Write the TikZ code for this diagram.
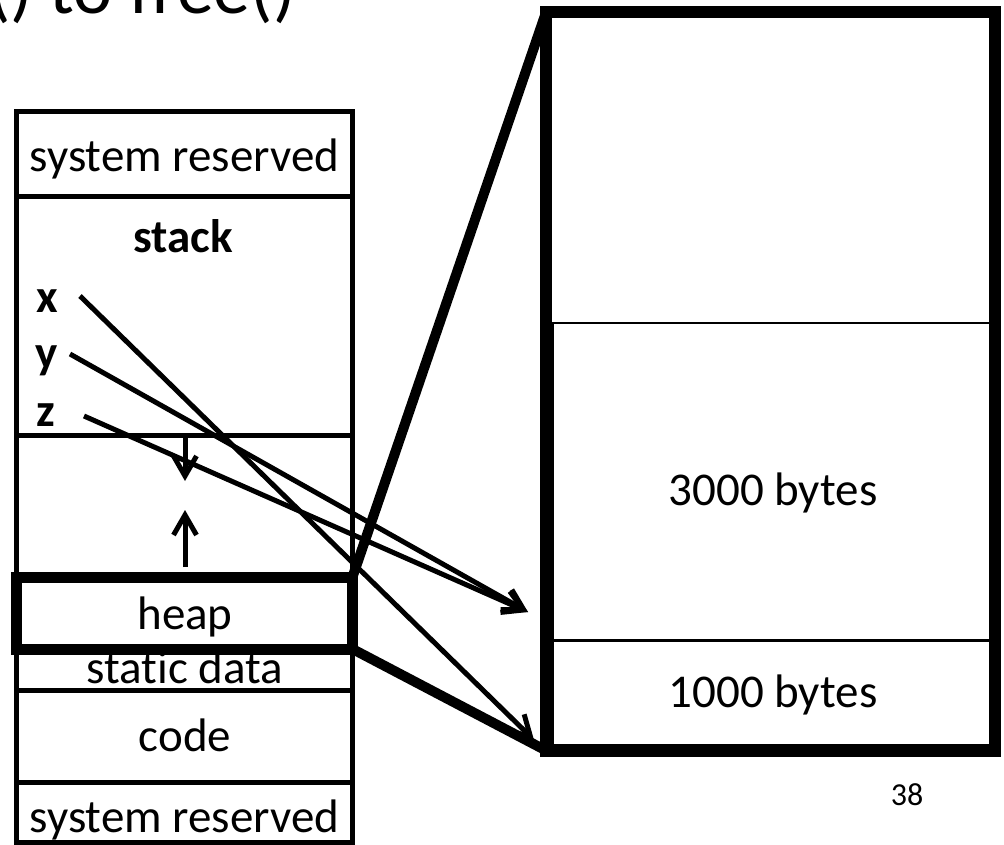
\documentclass[tikz,border=0pt]{standalone}
\usepackage{fontspec}
\setmainfont{Carlito}[Ligatures={NoCommon,NoContextual}]
\usetikzlibrary{arrows.meta}
\begin{document}
\begin{tikzpicture}[x=1pt,y=-1pt,
  box/.style={draw, line width=5pt, minimum width=336pt, inner sep=0pt, outer sep=0pt},
  heapbox/.style={draw, line width=11pt, minimum width=336pt, inner sep=0pt, outer sep=0pt},
  bigbox/.style={draw, line width=12pt, inner sep=0pt, outer sep=0pt},
  thinbox/.style={draw, line width=1.5pt, inner sep=0pt, outer sep=0pt},
  txt/.style={font=\fontsize{47}{50}\selectfont, inner sep=0pt, anchor=base},
  btxt/.style={font=\fontsize{47}{50}\selectfont\bfseries, inner sep=0pt, anchor=base},
  ptr/.style={line width=5pt, -{Straight Barb[length=20pt,width=23pt]}},
  zoomline/.style={line width=10pt}]
\useasboundingbox (0,0) rectangle (1004,845);
\clip (0,0) rectangle (1004,845);
% title (cut off at the top edge, as in the reference)
\node[anchor=base west, font=\fontsize{74}{80}\selectfont, inner sep=0pt] (title) at (-12,14) {() to free()};
% left column
\node[box, minimum height=85pt] (sr1) at (184.5,154.5) {};
\node[box, minimum height=238pt] (stack) at (184.5,316) {};
\node[box, minimum height=142pt] (free) at (184.5,506) {};
\node[box, minimum height=41pt] (static) at (184.5,669.5) {};
\node[box, minimum height=92pt] (code) at (184.5,736) {};
\node[box, minimum height=60pt] (sr2) at (184.5,812) {};
\node[heapbox, minimum height=72pt] (heap) at (184.5,613) {};
% right box
\node[thinbox, minimum width=437pt, minimum height=317pt] (b3000) at (771.5,481.5) {};
\node[thinbox, minimum width=437pt, minimum height=104pt] (b1000) at (771.5,693) {};
\node[bigbox, minimum width=449pt, minimum height=738pt] (rbox) at (770.5,381.5) {};
% texts
\node[txt] (tsr1) at (184.5,172) {system reserved};
\node[btxt] (tstack) at (183,253) {stack};
\node[btxt] (xl) at (47,312) {x};
\node[btxt] (yl) at (47,368) {y};
\node[btxt] (zl) at (46,426) {z};
\node[txt] (theap) at (185,629) {heap};
\node[txt] (tstatic) at (185,683) {static data};
\node[txt] (tcode) at (185,751) {code};
\node[txt] (tsr2) at (184.5,832) {system reserved};
\node[txt] (t3000) at (773,505) {3000 bytes};
\node[txt] (t1000) at (773,707) {1000 bytes};
\node[anchor=base, inner sep=0pt, font=\fontsize{32}{34}\selectfont] (page) at (907,805) {38};
% stack / heap growth arrows
\coordinate (dstart) at (185,437);
\coordinate (dend) at (185,481);
\coordinate (ustart) at (185,567);
\coordinate (uend) at (185,510);
\draw[ptr] (dstart) -- (dend);
\draw[ptr] (ustart) -- (uend);
% zoom lines
\draw[zoomline] (heap.north east) -- (rbox.north west);
\draw[zoomline] (heap.south east) -- (rbox.south west);
% pointers
\coordinate (xs) at (80,296);
\coordinate (ys) at (70,354);
\coordinate (zs) at (84,416);
\coordinate (xe) at (534,740);
\coordinate (yze) at (528,612);
\draw[ptr] (xs) -- (xe);
\draw[ptr] (ys) -- (yze);
\draw[ptr] (zs) -- (yze);
\end{tikzpicture}
\end{document}
